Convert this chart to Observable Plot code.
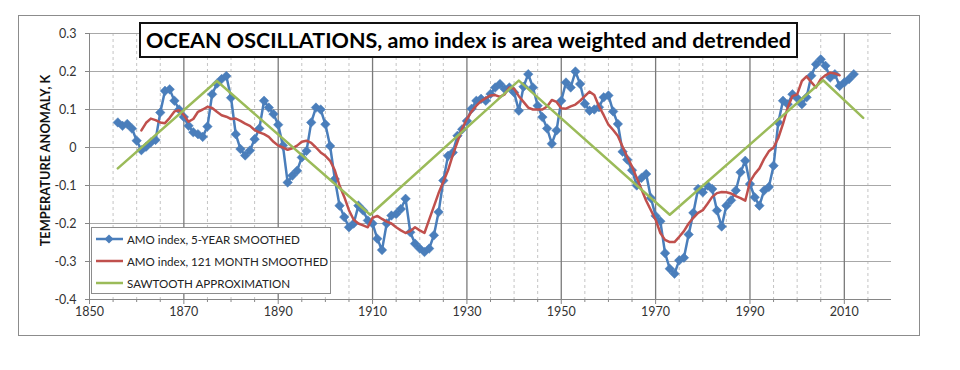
<!DOCTYPE html>
<html><head><meta charset="utf-8">
<script src="https://cdn.jsdelivr.net/npm/d3@7"></script>
<script src="https://cdn.jsdelivr.net/npm/@observablehq/plot@0.6"></script>
<style>
body{margin:0;background:#fff;}
#wrap{position:relative;width:960px;height:370px;font-family:Lato,sans-serif;}
#frame{position:absolute;left:18px;top:15px;width:900px;height:319px;border:1px solid #8c8c8c;}
#chart{position:absolute;left:0;top:0;}
#title{position:absolute;left:139px;top:22px;width:655px;height:32px;border:2px solid #111;background:#fff;font-weight:bold;font-size:21.5px;display:flex;align-items:center;justify-content:center;color:#000;white-space:nowrap;}
#legend{position:absolute;left:91px;top:227px;width:238px;height:65px;border:1px solid #8c8c8c;background:#fff;font-size:11.6px;color:#222;}
.row{position:absolute;left:4px;height:16px;display:flex;align-items:center;white-space:nowrap;}
.row svg{margin-right:4px;}
</style></head>
<body>
<div id="wrap">
  <div id="frame"></div>
  <div id="chart"></div>
  <div id="title"></div>
  <div id="legend"></div>
</div>
<script>
// ---- data ----
const titleText = "OCEAN OSCILLATIONS, amo index is area weighted and detrended";
const yLabel = "TEMPERATURE ANOMALY, K";
const seriesNames = ["AMO index, 5-YEAR SMOOTHED", "AMO index, 121 MONTH SMOOTHED", "SAWTOOTH APPROXIMATION"];
const seriesColors = ["#4a7ebb", "#c0504d", "#9bbb59"];
const xTicks = [1850, 1870, 1890, 1910, 1930, 1950, 1970, 1990, 2010];
const yTicks = [-0.4, -0.3, -0.2, -0.1, 0, 0.1, 0.2, 0.3];
const minorYears = [1855,1860,1865,1875,1880,1885,1895,1900,1905,1915,1920,1925,1935,1940,1945,1955,1960,1965,1975,1980,1985,1995,2000,2005,2015];

const blueStart = 1856;
const blueValues = [
 0.066,0.057,0.062,0.05,0.018,-0.007,0.002,0.013,0.02,0.092,      // 1856-1865
 0.149,0.153,0.123,0.1,0.08,0.057,0.04,0.035,0.028,0.055,        // 1866-1875
 0.14,0.168,0.18,0.188,0.131,0.035,-0.004,-0.021,-0.008,0.022,   // 1876-1885
 0.05,0.123,0.105,0.088,0.06,0.005,-0.092,-0.074,-0.061,-0.026,  // 1886-1895
 -0.009,0.066,0.105,0.1,0.061,0.004,-0.083,-0.153,-0.183,-0.21,  // 1896-1905
 -0.2,-0.153,-0.166,-0.192,-0.2,-0.24,-0.27,-0.2,-0.179,-0.175,  // 1906-1915
 -0.162,-0.135,-0.223,-0.253,-0.266,-0.275,-0.266,-0.231,-0.17,-0.087, // 1916-1925
 -0.022,-0.013,0.031,0.048,0.07,0.102,0.123,0.128,0.123,0.141,   // 1926-1935
 0.158,0.167,0.154,0.158,0.145,0.097,0.16,0.193,0.158,0.11,      // 1936-1945
 0.08,0.05,0.01,0.045,0.123,0.171,0.158,0.2,0.167,0.115,         // 1946-1955
 0.097,0.1,0.106,0.132,0.137,0.095,0.062,-0.011,-0.032,-0.06,    // 1956-1965
 -0.1,-0.08,-0.07,-0.133,-0.18,-0.194,-0.278,-0.319,-0.332,-0.297, // 1966-1975
 -0.29,-0.229,-0.172,-0.109,-0.118,-0.1,-0.109,-0.166,-0.208,-0.153, // 1976-1985
 -0.139,-0.113,-0.065,-0.035,-0.096,-0.131,-0.153,-0.113,-0.104,-0.048, // 1986-1995
 0.066,0.123,0.114,0.14,0.13,0.114,0.132,0.189,0.219,0.232,      // 1996-2005
 0.215,0.184,0.193,0.162,0.171,0.18,0.193                        // 2006-2012
];

const redStart = 1861;
const redValues = [
 0.045,0.065,0.076,0.072,0.066,0.064,0.078,0.095,0.098,0.085,    // 1861-1870
 0.068,0.075,0.094,0.1,0.107,0.104,0.094,0.085,0.081,0.075,      // 1871-1880
 0.076,0.07,0.063,0.057,0.046,0.04,0.035,0.028,0.015,0.005,      // 1881-1890
 0.0,-0.006,-0.002,0.005,0.015,0.018,0.012,0.0,-0.013,-0.022,    // 1891-1900
 -0.035,-0.06,-0.1,-0.13,-0.165,-0.19,-0.2,-0.205,-0.21,-0.185,  // 1901-1910
 -0.18,-0.188,-0.195,-0.2,-0.21,-0.218,-0.225,-0.22,-0.21,-0.218, // 1911-1920
 -0.225,-0.19,-0.155,-0.12,-0.09,-0.06,-0.02,0.015,0.05,0.075,   // 1921-1930
 0.095,0.11,0.122,0.13,0.137,0.138,0.133,0.14,0.158,0.155,       // 1931-1940
 0.135,0.12,0.105,0.1,0.1,0.1,0.108,0.125,0.12,0.103,            // 1941-1950
 0.102,0.108,0.113,0.123,0.135,0.147,0.138,0.108,0.085,0.06,     // 1951-1960
 0.046,0.03,0.002,-0.025,-0.05,-0.08,-0.11,-0.14,-0.165,-0.19,   // 1961-1970
 -0.225,-0.243,-0.249,-0.249,-0.235,-0.22,-0.2,-0.185,-0.172,-0.165, // 1971-1980
 -0.148,-0.13,-0.12,-0.117,-0.118,-0.121,-0.128,-0.133,-0.14,-0.09,  // 1981-1990
 -0.07,-0.055,-0.03,-0.01,0.0,0.025,0.062,0.105,0.135,0.14,      // 1991-2000
 0.175,0.187,0.172,0.158,0.18,0.19,0.197,0.195,0.19              // 2001-2009
];

const sawYears = [1856, 1877, 1909.5, 1941, 1973, 2005.5, 2014];
const sawValues = [-0.055, 0.175, -0.177, 0.176, -0.177, 0.177, 0.078];

// ---- tables ----
const blue = blueValues.map((v, i) => ({year: blueStart + i, value: v}));
const red = redValues.map((v, i) => ({year: redStart + i, value: v}));
const saw = sawYears.map((y, i) => ({year: y, value: sawValues[i]}));
const majorGrid = xTicks.filter(d => d > 1850);
const fmtY = d => d === 0 ? "0" : d.toFixed(1);

const chart = Plot.plot({
  width: 960,
  height: 370,
  marginLeft: 89,
  marginRight: 69,
  marginTop: 33,
  marginBottom: 71,
  style: {fontFamily: "Lato, sans-serif", fontSize: "12.5px", color: "#333", background: "transparent"},
  x: {domain: [1850, 2020]},
  y: {domain: [-0.4, 0.3]},
  marks: [
    Plot.ruleX(minorYears, {stroke: "#c4c4c4", strokeDasharray: "3,3", strokeWidth: 1}),
    Plot.ruleY(yTicks, {stroke: "#a8a8a8", strokeWidth: 1}),
    Plot.ruleX(majorGrid, {stroke: "#7a7a7a", strokeWidth: 1.3}),
    Plot.axisY({ticks: yTicks, tickFormat: fmtY, tickSize: 4, tickPadding: 9, stroke: "#868686", label: null}),
    Plot.axisX({ticks: minorYears, tickSize: 3, tickFormat: () => "", stroke: "#868686", label: null}),
    Plot.axisX({ticks: xTicks, tickFormat: d => String(d), tickSize: 5, tickPadding: 3, stroke: "#868686", label: null}),
    Plot.ruleX([1850], {stroke: "#868686"}),
    Plot.ruleY([-0.4], {stroke: "#868686"}),
    Plot.text([yLabel], {frameAnchor: "left", textAnchor: "middle", rotate: -90, dx: -44, dy: -6, fontWeight: "bold", fontSize: 12.8, fill: "#111"}),
    Plot.line(blue, {x: "year", y: "value", stroke: seriesColors[0], strokeWidth: 2.5}),
    Plot.dot(blue, {x: "year", y: "value", symbol: "diamond2", r: 4.3, fill: seriesColors[0], stroke: seriesColors[0], strokeWidth: 0.5}),
    Plot.line(red, {x: "year", y: "value", stroke: seriesColors[1], strokeWidth: 2.5}),
    Plot.line(saw, {x: "year", y: "value", stroke: seriesColors[2], strokeWidth: 2.5})
  ]
});
document.getElementById("chart").appendChild(chart);

document.getElementById("title").textContent = titleText;

const legend = document.getElementById("legend");
seriesNames.forEach((name, i) => {
  const row = document.createElement("div");
  row.className = "row";
  row.style.top = (3 + i * 22) + "px";
  const marker = i === 0 ? `<path d="M13,0.5 L17.5,5 L13,9.5 L8.5,5 Z" fill="${seriesColors[i]}"/>` : "";
  row.innerHTML = `<svg width="27" height="10"><line x1="0" y1="5" x2="27" y2="5" stroke="${seriesColors[i]}" stroke-width="2.5"/>${marker}</svg><span>${name}</span>`;
  legend.appendChild(row);
});
</script>
</body></html>
